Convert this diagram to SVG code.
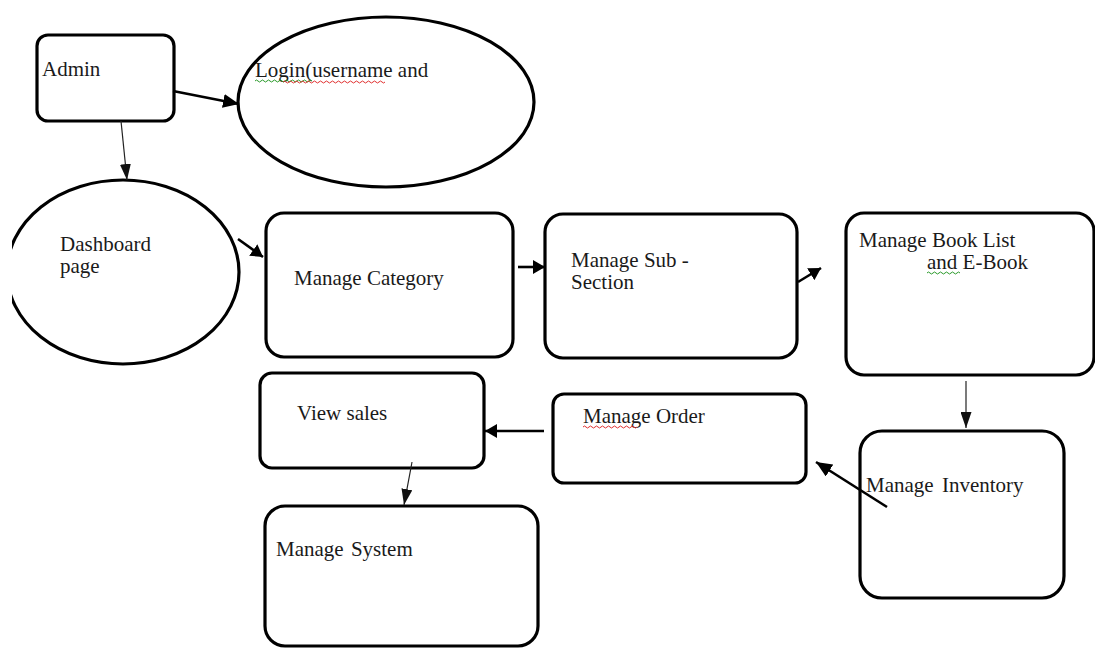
<svg xmlns="http://www.w3.org/2000/svg" width="1095" height="648" viewBox="0 0 1095 648">
<style>
  .box{fill:#fff;stroke:#000;stroke-width:3.2}
  .ell{fill:#fff;stroke:#000;stroke-width:3.2}
  .t{font-family:"Liberation Serif","Times New Roman",serif;font-size:21px;fill:#1a1a1a}
  .thick{stroke:#000;stroke-width:2.6;fill:none}
  .thin{stroke:#222;stroke-width:1.2;fill:none}
  .sq-r{stroke:#e03030;stroke-width:1;fill:none}
  .sq-g{stroke:#2a9a2a;stroke-width:1;fill:none}
</style>
<defs>
  <marker id="big" markerUnits="userSpaceOnUse" viewBox="0 0 16 14" refX="16" refY="7" markerWidth="16" markerHeight="14" orient="auto">
    <path d="M0,0 L16,7 L0,14 z" fill="#000"/>
  </marker>
  <marker id="med" markerUnits="userSpaceOnUse" viewBox="0 0 12 14" refX="12" refY="7" markerWidth="12" markerHeight="14" orient="auto">
    <path d="M0,0 L12,7 L0,14 z" fill="#000"/>
  </marker>
  <marker id="sm" markerUnits="userSpaceOnUse" viewBox="0 0 16 11" refX="16" refY="5.5" markerWidth="16" markerHeight="11" orient="auto">
    <path d="M0,0 L16,5.5 L0,11 z" fill="#111"/>
  </marker>
  <clipPath id="clipL"><rect x="12" y="0" width="1083" height="648"/></clipPath>
</defs>
<rect width="1095" height="648" fill="#fff"/>

<g id="admin">
  <rect class="box" x="37" y="35" width="137" height="86" rx="11"/>
  <text class="t" x="42" y="76">Admin</text>
</g>
<g id="login">
  <ellipse class="ell" cx="386" cy="102" rx="148" ry="85"/>
  <text class="t" x="255" y="77">Login(username and</text>
  <path class="sq-g" d="M255,81 q1.5,-2 3,0 t3,0 t3,0 t3,0 t3,0 t3,0 t3,0 t3,0 t3,0 t3,0 t3,0 t3,0 t3,0 t3,0 t3,0 t3,0 t3,0 t3,0 t3,0"/>
  <path class="sq-r" d="M283,82 q1.5,-2 3,0 t3,0 t3,0 t3,0 t3,0 t3,0 t3,0 t3,0 t3,0 t3,0 t3,0 t3,0 t3,0 t3,0 t3,0 t3,0 t3,0 t3,0 t3,0 t3,0 t3,0 t3,0 t3,0 t3,0 t3,0 t3,0 t3,0 t3,0 t3,0 t3,0 t3,0 t3,0 t3,0 t3,0"/>
</g>
<g id="dashboard">
  <ellipse class="ell" cx="123" cy="272" rx="116" ry="92" clip-path="url(#clipL)"/>
  <text class="t" x="60" y="251">Dashboard</text>
  <text class="t" x="60" y="273">page</text>
</g>
<g id="category">
  <rect class="box" x="266" y="213" width="247" height="144" rx="18"/>
  <text class="t" x="294" y="285">Manage Category</text>
</g>
<g id="subsection">
  <rect class="box" x="545" y="214" width="252" height="144" rx="18"/>
  <text class="t" x="571" y="267">Manage Sub -</text>
  <text class="t" x="571" y="289">Section</text>
</g>
<g id="booklist">
  <rect class="box" x="846" y="213" width="248" height="162" rx="18"/>
  <text class="t" x="859" y="247">Manage Book List</text>
  <text class="t" x="927" y="269">and E-Book</text>
  <path class="sq-g" d="M927,273 q1.5,-2 3,0 t3,0 t3,0 t3,0 t3,0 t3,0 t3,0 t3,0 t3,0 t3,0 t3,0"/>
</g>
<g id="inventory">
  <rect class="box" x="860" y="431" width="204" height="167" rx="22"/>
  <text class="t" x="866" y="492" style="word-spacing:3px">Manage Inventory</text>
</g>
<g id="order">
  <rect class="box" x="553" y="394" width="253" height="89" rx="11"/>
  <text class="t" x="583" y="423">Manage Order</text>
  <path class="sq-r" d="M583,427 q1.5,-2 3,0 t3,0 t3,0 t3,0 t3,0 t3,0 t3,0 t3,0 t3,0 t3,0 t3,0 t3,0 t3,0 t3,0 t3,0 t3,0 t3,0 t3,0"/>
</g>
<g id="viewsales">
  <rect class="box" x="260" y="373" width="224" height="95" rx="12"/>
  <text class="t" x="297" y="420">View sales</text>
</g>
<g id="system">
  <rect class="box" x="265" y="506" width="273" height="140" rx="20"/>
  <text class="t" x="276" y="556" style="word-spacing:2px">Manage System</text>
</g>

<g id="connectors">
  <line class="thick" x1="173" y1="91" x2="239" y2="104" marker-end="url(#big)"/>
  <line class="thin" x1="121" y1="121" x2="127" y2="180" marker-end="url(#sm)"/>
  <line class="thick" x1="238" y1="239" x2="263" y2="257" marker-end="url(#med)"/>
  <line class="thick" x1="518" y1="267" x2="545" y2="267" marker-end="url(#med)"/>
  <line class="thick" x1="798" y1="282" x2="821" y2="268" marker-end="url(#med)"/>
  <line class="thin" x1="966" y1="381" x2="966" y2="428" marker-end="url(#sm)"/>
  <line class="thick" x1="887" y1="507" x2="816" y2="462" marker-end="url(#big)"/>
  <line class="thick" x1="544" y1="431" x2="485" y2="431" marker-end="url(#med)"/>
  <line class="thin" x1="412" y1="462" x2="404" y2="505" marker-end="url(#sm)"/>
</g>
</svg>
